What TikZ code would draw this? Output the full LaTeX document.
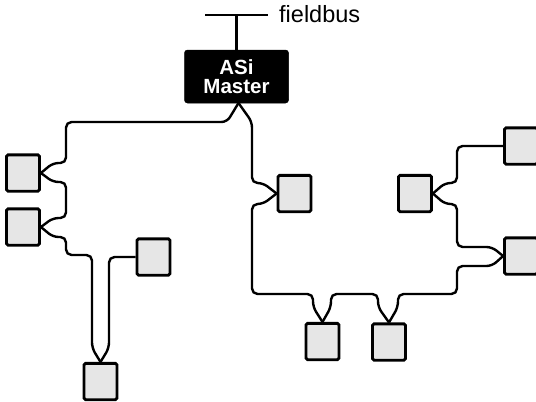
\documentclass[tikz,border=0pt]{standalone}
\usepackage{fontspec}
\setmainfont{Liberation Sans}
\definecolor{devgray}{HTML}{E6E6E6}
\begin{document}
\begin{tikzpicture}[x=1pt,y=-1pt,
  wire/.style={line width=2.4pt, rounded corners=5.5pt},
  bus/.style={line width=2.6pt},
  dev/.style={draw, line width=2.8pt, fill=devgray, rounded corners=1.5pt,
    minimum width=33pt, minimum height=36.3pt, inner sep=0pt},
  masterbox/.style={draw, fill=black, rounded corners=3pt, line width=0.5pt,
    minimum width=104pt, minimum height=53pt, inner sep=0pt,
    text=white, align=center, font=\bfseries\fontsize{20.5}{19}\selectfont},
  label/.style={font=\fontsize{23.5}{26}\selectfont, inner sep=0pt, anchor=base west}]
\clip (0,0) rectangle (536,402);
% master and fieldbus
\node[masterbox] (master) at (236.5,76.5) {ASi\\Master};
\coordinate (fbL) at (205,15);
\coordinate (fbR) at (268,15);
\node[label] (fb) at (279,22.5) {fieldbus};
\draw[bus] (fbL) -- (fbR);
\draw[bus] (master.north) -- (master.north |- fbL);
\coordinate (apex) at (238.5,103);
% devices
\node[dev] (b1) at (23,173) {};
\node[dev] (b2) at (23,227) {};
\node[dev] (b3) at (153.5,257) {};
\node[dev] (b4) at (100.5,381.5) {};
\node[dev] (b5) at (294.5,193.5) {};
\node[dev] (b6) at (322.5,341.5) {};
\node[dev] (b7) at (389,342) {};
\node[dev] (b8) at (415,193.5) {};
\node[dev] (b9) at (521,146) {};
\node[dev] (b10) at (521,256) {};
% wires
\draw[wire] (apex) -- (227,122) -- (66,122) -- (66,163) -- (53,163) -- (b1.east);
\draw[wire] (b1.east) -- (53,182) -- (66,182) -- (66,218) -- (53,218) -- (b2.east);
\draw[wire] (b2.east) -- (53,237) -- (66,237) -- (66,255) -- (92,255) -- (92,348) -- (b4.north);
\draw[wire] (b3.west) -- (109,257) -- (109,348) -- (b4.north);
\draw[wire] (apex) -- (252,122) -- (252,183) -- (263,183) -- (b5.west);
\draw[wire] (b5.west) -- (263,204) -- (252,204) -- (252,294) -- (313,294) -- (313,307) -- (b6.north);
\draw[wire] (b6.north) -- (331,307) -- (331,294) -- (378,294) -- (378,307) -- (b7.north);
\draw[wire] (b7.north) -- (398,307) -- (398,294) -- (457,294) -- (457,266) -- (492,266) -- (b10.west);
\draw[wire] (b10.west) -- (492,247) -- (457,247) -- (457,204) -- (445,204) -- (b8.east);
\draw[wire] (b8.east) -- (445,183) -- (457,183) -- (457,146) -- (b9.west);
\end{tikzpicture}
\end{document}
